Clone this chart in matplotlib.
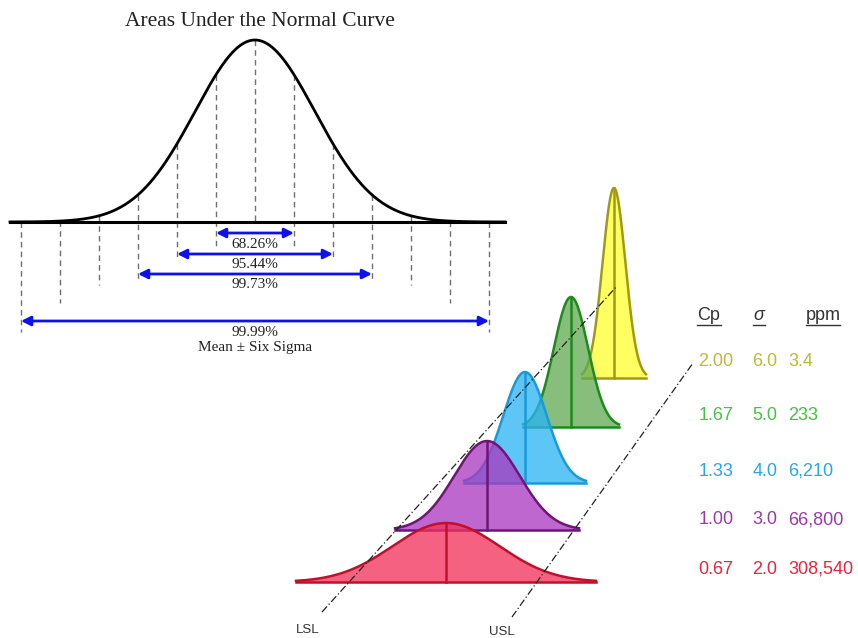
import numpy as np
import matplotlib
matplotlib.use("Agg")
import matplotlib.pyplot as plt

# --- top panel: areas under the normal curve ---
title = "Areas Under the Normal Curve"
sigma_steps = [1, 2, 3, 4, 5, 6]
dash_bottoms = [248, 258, 280, 285, 303, 332]    # lower end of dashed guide per sigma
pct_labels = ["68.26%", "95.44%", "99.73%", "99.99%"]
pct_sigmas = [1, 2, 3, 6]
pct_arrow_y = [233, 254, 274, 321]
footnote = "Mean \u00b1 Six Sigma"

# --- bottom panel: Cp stack ---
cp_vals = ["2.00", "1.67", "1.33", "1.00", "0.67"]
sigma_vals = ["6.0", "5.0", "4.0", "3.0", "2.0"]
ppm_vals = ["3.4", "233", "6,210", "66,800", "308,540"]
curve_center = [614, 571, 525, 487, 446]
curve_base = [378, 427, 483, 530, 582]
curve_height = [190, 130, 111, 89, 59]
curve_halfwidth = [32, 48, 61, 92, 150]
row_y = [362, 416, 471, 520, 569]
fill_cols = ["#ffff30", "#62aa52", "#2ab4f5", "#aa38c0", "#f2305a"]
edge_cols = ["#a09a18", "#1e8a1e", "#1a9ad8", "#6e1578", "#c0102c"]
text_cols = ["#c0b838", "#48c048", "#2aa6e6", "#9a3aa8", "#e0283e"]

fig = plt.figure(figsize=(8.58, 6.38), dpi=100)
ax = fig.add_axes([0, 0, 1, 1])
ax.set_xlim(0, 858)
ax.set_ylim(638, 0)
ax.axis("off")

serif = ["Liberation Serif", "DejaVu Serif"]
sans = ["Liberation Sans", "DejaVu Sans"]

# normal curve
mu, step, base = 255, 39, 222
peak = 182
curve_sd = 60

def curve_y(x):
    return base - peak * np.exp(-0.5 * ((x - mu) / curve_sd) ** 2)

xs = np.linspace(10, 505, 600)
ax.plot([10, 505], [base, base], color="black", lw=2.2, zorder=3)
ax.plot(xs, curve_y(xs), color="black", lw=2.0, zorder=3)

ax.plot([mu, mu], [curve_y(mu), base], color="#707070", lw=1, ls=(0, (4, 3)), zorder=2)
for k, yb in zip(sigma_steps, dash_bottoms):
    for sgn in (-1, 1):
        x = mu + sgn * k * step
        ytop = min(curve_y(x), base)
        ax.plot([x, x], [ytop, yb], color="#707070", lw=1, ls=(0, (4, 3)), zorder=2)

for lab, k, ya in zip(pct_labels, pct_sigmas, pct_arrow_y):
    ax.annotate("", xy=(mu + k * step, ya), xytext=(mu - k * step, ya),
                arrowprops=dict(arrowstyle="<|-|>", color="#1010ee", lw=2,
                                mutation_scale=14, shrinkA=0, shrinkB=0), zorder=4)
    ax.text(mu, ya + 11, lab, ha="center", va="center", fontsize=11,
            family=serif, color="#222222")
ax.text(mu, 347, footnote, ha="center", va="center", fontsize=11,
        family=serif, color="#222222")
ax.text(260, 22, title, ha="center", va="center", fontsize=15.5,
        family=serif, color="#222222")

# stacked curves, back to front
for i in range(len(cp_vals)):
    c, b, h, hw = curve_center[i], curve_base[i], curve_height[i], curve_halfwidth[i]
    sd = hw / 2.8
    cx = np.linspace(c - hw, c + hw, 300)
    cy = b - h * np.exp(-0.5 * ((cx - c) / sd) ** 2)
    ax.fill_between(cx, cy, b, color=fill_cols[i], alpha=0.76, lw=0, zorder=5 + i)
    ax.plot(cx, cy, color=edge_cols[i], lw=1.8, zorder=5 + i)
    ax.plot([c - hw, c + hw], [b, b], color=edge_cols[i], lw=1.8, zorder=5 + i)
    ax.plot([c, c], [b - h, b], color=edge_cols[i], lw=1.8, zorder=5 + i)

# spec limit lines
ax.plot([322, 617], [612, 286], color="#222222", lw=0.9, ls=(0, (6, 2, 1, 2)), zorder=12)
ax.plot([512, 693], [617, 363], color="#222222", lw=0.9, ls=(0, (6, 2, 1, 2)), zorder=12)
ax.text(308, 630, "LSL", ha="center", va="center", fontsize=9.5, family=sans, color="#333333")
ax.text(502, 632, "USL", ha="center", va="center", fontsize=9.5, family=sans, color="#333333")

# table
hdr_y = 316
ax.text(709, hdr_y, "Cp", ha="center", va="center", fontsize=13, family=sans, color="#333333")
ax.text(759, hdr_y, "\u03c3", ha="center", va="center", fontsize=13, family=sans,
        style="italic", color="#333333")
ax.text(823, hdr_y, "ppm", ha="center", va="center", fontsize=13, family=sans, color="#333333")
for x0, x1 in [(697, 721), (753, 765), (806, 840)]:
    ax.plot([x0, x1], [325, 325], color="#333333", lw=1)

for i in range(len(cp_vals)):
    ax.text(716, row_y[i], cp_vals[i], ha="center", va="center", fontsize=13,
            family=sans, color=text_cols[i])
    ax.text(765, row_y[i], sigma_vals[i], ha="center", va="center", fontsize=13,
            family=sans, color=text_cols[i])
    ax.text(788, row_y[i], ppm_vals[i], ha="left", va="center", fontsize=13,
            family=sans, color=text_cols[i])

fig.savefig("out.png", dpi=100)
